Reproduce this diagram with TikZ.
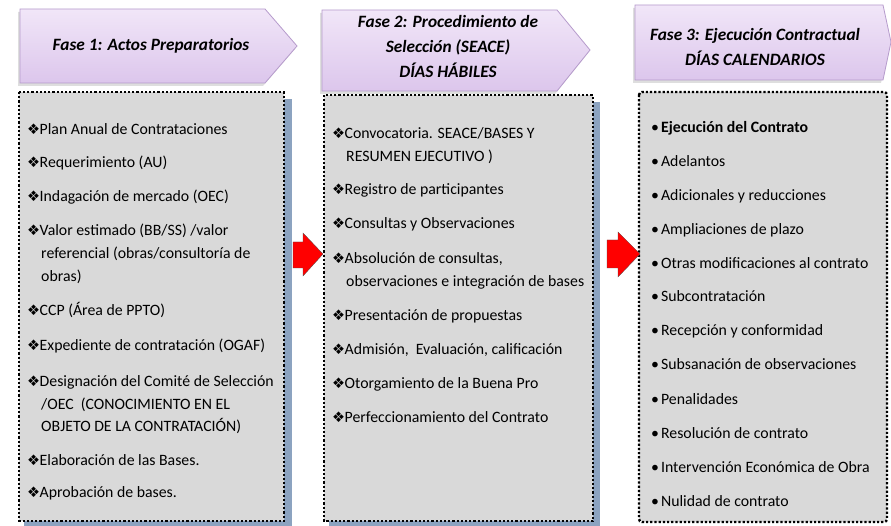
\documentclass[tikz,border=0pt]{standalone}
\usepackage{fontspec}
\setmainfont{Carlito}
\newfontfamily\symf{DejaVu Sans}
\usetikzlibrary{shadows}
\definecolor{lavtop}{HTML}{F1E6F8}
\definecolor{lavbot}{HTML}{DCC6EC}
\definecolor{lavline}{HTML}{B69BCC}
\definecolor{boxfill}{HTML}{D9D9D9}
\definecolor{boxshadow}{HTML}{8CA3C0}
\definecolor{hdrshadow}{HTML}{BFBFBF}
\definecolor{arrowred}{HTML}{FF0000}
\tikzset{
  hdrtext/.style={font=\fontsize{17.3}{25}\selectfont\bfseries\itshape, align=center, text=black},
  itemtext/.style={font=\fontsize{15.8}{23}\selectfont, anchor=base west, inner sep=0pt, text=black},
  dotbox/.style={fill=boxfill, draw=black, line width=2.4pt, dash pattern=on 2.2pt off 2pt},
  hdrfill/.style={top color=lavtop, bottom color=lavbot, draw=lavline, line width=0.8pt},
}
\newcommand{\dia}{{\symf\fontsize{14.5}{12}\selectfont ❖}\hspace{-0.5pt}}
\newcommand{\bul}{•\hspace{2pt}}
\begin{document}
\begin{tikzpicture}[x=1pt,y=-1pt]
\useasboundingbox (0,0) rectangle (891,526);
\fill[white] (0,0) rectangle (891,526);

% ---------- headers ----------
\fill[hdrshadow,opacity=0.5] (18,12) -- (263,12) -- (295,49) -- (263,86) -- (18,86) -- cycle;
\path[hdrfill] (20,9) -- (265,9) -- (297,46) -- (265,83) -- (20,83) -- cycle;
\node[hdrtext] (h1) at (151,46) {Fase 1: Actos Preparatorios};

\fill[hdrshadow,opacity=0.5] (320,13) -- (555,13) -- (588,53) -- (555,94) -- (320,94) -- cycle;
\path[hdrfill] (322,10) -- (557,10) -- (590,50) -- (557,91) -- (322,91) -- cycle;
\node[hdrtext] (h2) at (448,46) {Fase 2: Procedimiento de\\Selección (SEACE)\\DÍAS HÁBILES};

\fill[hdrshadow,opacity=0.5] (633,8) -- (881,8) -- (889,45) -- (881,83) -- (633,83) -- cycle;
\path[hdrfill] (635,5) -- (883,5) -- (891,42) -- (883,80) -- (635,80) -- cycle;
\node[hdrtext] (h3) at (755,47) {Fase 3: Ejecución Contractual\\DÍAS CALENDARIOS};

% ---------- boxes ----------
\fill[boxshadow] (24,99) rectangle (292,526);
\path[dotbox] (19,92) rectangle (284,521);
\fill[boxshadow] (329,102) rectangle (600,526);
\path[dotbox] (324,95) rectangle (593,521);
\path[dotbox, rounded corners=3pt] (639,92) rectangle (887,522);
\node[inner sep=0pt] (b1) at (151,306) {};
\node[inner sep=0pt] (b2) at (458,308) {};
\node[inner sep=0pt] (b3) at (763,307) {};

% ---------- red arrows ----------
\path[fill=arrowred, draw=black!70, line width=0.3pt] (293,242) -- (303,242) -- (303,233) -- (323,254) -- (303,276) -- (303,268) -- (293,268) -- cycle;
\path[fill=arrowred, draw=black!70, line width=0.3pt] (607,240) -- (618,240) -- (618,232) -- (640,254) -- (618,277) -- (618,268) -- (607,268) -- cycle;

% ---------- box 1 items ----------
\node[itemtext] (a1) at (27,135) {\dia Plan Anual de Contrataciones};
\node[itemtext] (a2) at (27,168) {\dia Requerimiento (AU)};
\node[itemtext] (a3) at (27,202) {\dia Indagación de mercado (OEC)};
\node[itemtext] (a4) at (27,236) {\dia Valor estimado (BB/SS) /valor};
\node[itemtext] (a4b) at (41,259) {referencial (obras/consultoría de};
\node[itemtext] (a4c) at (41,282) {obras)};
\node[itemtext] (a5) at (27,316) {\dia CCP (Área de PPTO)};
\node[itemtext] (a6) at (27,351) {\dia Expediente de contratación (OGAF)};
\node[itemtext] (a7) at (27,386) {\dia Designación del Comité de Selección};
\node[itemtext] (a7b) at (41,409) {/OEC\ \ (CONOCIMIENTO EN EL};
\node[itemtext] (a7c) at (41,431) {OBJETO DE LA CONTRATACIÓN)};
\node[itemtext] (a8) at (27,465) {\dia Elaboración de las Bases.};
\node[itemtext] (a9) at (27,497) {\dia Aprobación de bases.};

% ---------- box 2 items ----------
\node[itemtext] (c1) at (332,139) {\dia Convocatoria. SEACE/BASES Y};
\node[itemtext] (c1b) at (346,162) {RESUMEN EJECUTIVO )};
\node[itemtext] (c2) at (332,195) {\dia Registro de participantes};
\node[itemtext] (c3) at (332,229) {\dia Consultas y Observaciones};
\node[itemtext] (c4) at (332,264) {\dia Absolución de consultas,};
\node[itemtext] (c4b) at (346,287) {observaciones e integración de bases};
\node[itemtext] (c5) at (332,321) {\dia Presentación de propuestas};
\node[itemtext] (c6) at (332,355) {\dia Admisión,\ \ Evaluación, calificación};
\node[itemtext] (c7) at (332,388) {\dia Otorgamiento de la Buena Pro};
\node[itemtext] (c8) at (332,422) {\dia Perfeccionamiento del Contrato};

% ---------- box 3 items ----------
\node[itemtext] (e1) at (651,133) {\bul\textbf{Ejecución del Contrato}};
\node[itemtext] (e2) at (651,167) {\bul Adelantos};
\node[itemtext] (e3) at (651,201) {\bul Adicionales y reducciones};
\node[itemtext] (e4) at (651,235) {\bul Ampliaciones de plazo};
\node[itemtext] (e5) at (651,269) {\bul Otras modificaciones al contrato};
\node[itemtext] (e6) at (651,302) {\bul Subcontratación};
\node[itemtext] (e7) at (651,336) {\bul Recepción y conformidad};
\node[itemtext] (e8) at (651,370) {\bul Subsanación de observaciones};
\node[itemtext] (e9) at (651,404) {\bul Penalidades};
\node[itemtext] (e10) at (651,438) {\bul Resolución de contrato};
\node[itemtext] (e11) at (651,472) {\bul Intervención Económica de Obra};
\node[itemtext] (e12) at (651,506) {\bul Nulidad de contrato};
\end{tikzpicture}
\end{document}
